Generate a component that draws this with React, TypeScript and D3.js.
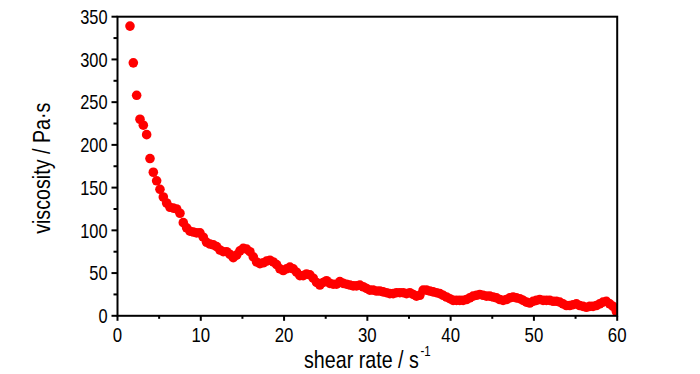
import { useEffect, useRef } from 'react'
import * as d3 from 'd3'

// shear rate (1/s)
const shearRate = [
  1.5, 1.9, 2.3, 2.7, 3.1, 3.5, 3.9, 4.3, 4.7, 5.1, 5.5, 5.9, 6.3, 6.7, 7.1, 7.5, 7.9, 8.3, 8.7, 9.1,
  9.5, 9.9, 10.3, 10.7, 11.1, 11.5, 11.9, 12.3, 12.7, 13.1, 13.5, 13.9, 14.3, 14.7, 15.1, 15.5, 15.9,
  16.3, 16.7, 17.1, 17.5, 17.9, 18.3, 18.7, 19.1, 19.5, 19.9, 20.3, 20.7, 21.1, 21.5, 21.9, 22.3, 22.7,
  23.1, 23.5, 23.9, 24.3, 24.7, 25.1, 25.5, 25.9, 26.3, 26.7, 27.1, 27.5, 27.9, 28.3, 28.7, 29.1, 29.5,
  29.9, 30.3, 30.7, 31.1, 31.5, 31.9, 32.3, 32.7, 33.1, 33.5, 33.9, 34.3, 34.7, 35.1, 35.5, 35.9, 36.3,
  36.7, 37.1, 37.5, 37.9, 38.3, 38.7, 39.1, 39.5, 39.9, 40.3, 40.7, 41.1, 41.5, 41.9, 42.3, 42.7, 43.1,
  43.5, 43.9, 44.3, 44.7, 45.1, 45.5, 45.9, 46.3, 46.7, 47.1, 47.5, 47.9, 48.3, 48.7, 49.1, 49.5, 49.9,
  50.3, 50.7, 51.1, 51.5, 51.9, 52.3, 52.7, 53.1, 53.5, 53.9, 54.3, 54.7, 55.1, 55.5, 55.9, 56.3, 56.7,
  57.1, 57.5, 57.9, 58.3, 58.7, 59.1, 59.5, 59.9,
]

// viscosity (Pa·s)
const viscosity = [
  339, 296, 258, 230, 223, 212, 184, 168, 158, 148, 139, 132, 127, 126, 125, 120, 109, 103, 99, 98,
  97, 97, 92, 86, 84, 83, 81, 77, 75, 75, 72, 68, 71, 76, 79, 78, 75,
  69, 63, 61, 62, 64, 65, 63, 60, 55, 53, 55, 57, 55, 51, 47, 47, 49,
  48, 44, 39, 36, 39, 41, 38, 37, 37, 40, 38, 37, 36, 35, 35, 36, 34,
  32, 30, 30, 29, 29, 28, 27, 26, 26, 27, 27, 27, 26, 27, 25, 23, 24,
  30, 30, 29, 28, 27, 26, 24, 22, 20, 18, 18, 18, 18, 19, 21, 23, 24,
  25, 24, 23, 23, 22, 21, 19, 18, 19, 21, 22, 21, 20, 18, 16, 15, 17,
  18, 19, 18, 18, 18, 17, 17, 16, 14, 12, 12, 13, 14, 12, 11, 10, 11,
  11, 12, 14, 16, 17, 14, 11, 5,
]

const xTicks = [0, 10, 20, 30, 40, 50, 60]
const xMinor = [5, 15, 25, 35, 45, 55]
const yTicks = [0, 50, 100, 150, 200, 250, 300, 350]
const yMinor = [25, 75, 125, 175, 225, 275, 325]

const W = 700
const H = 374
const FONT = '"Liberation Sans", Arial, sans-serif'
const NARROW = 0.82 // squeeze to look like Arial Narrow

export default function App() {
  const svgRef = useRef<SVGSVGElement | null>(null)

  useEffect(() => {
    if (!svgRef.current) return
    const svg = d3.select(svgRef.current)
    svg.selectAll('*').remove()

    const left = 117.5,
      right = 617.2,
      top = 16.7,
      bottom = 315.8

    const x = d3.scaleLinear().domain([0, 60]).range([left, right])
    const y = d3.scaleLinear().domain([0, 350]).range([bottom, top])

    svg
      .append('defs')
      .append('clipPath')
      .attr('id', 'plot-clip')
      .append('rect')
      .attr('x', left)
      .attr('y', top)
      .attr('width', right - left)
      .attr('height', bottom - top)

    // points
    const pts = shearRate.map((s, i) => ({ s, v: viscosity[i] }))
    svg
      .append('g')
      .attr('clip-path', 'url(#plot-clip)')
      .selectAll('circle')
      .data(pts)
      .join('circle')
      .attr('cx', (d) => x(d.s))
      .attr('cy', (d) => y(d.v))
      .attr('r', 4.8)
      .attr('fill', '#ff0000')

    // frame
    svg
      .append('rect')
      .attr('x', left)
      .attr('y', top)
      .attr('width', right - left)
      .attr('height', bottom - top)
      .attr('fill', 'none')
      .attr('stroke', '#000')
      .attr('stroke-width', 2)

    const axes = svg.append('g').attr('stroke', '#000').attr('stroke-width', 2)

    // x ticks
    axes
      .selectAll('line.xmaj')
      .data(xTicks)
      .join('line')
      .attr('class', 'xmaj')
      .attr('x1', (d) => x(d))
      .attr('x2', (d) => x(d))
      .attr('y1', bottom)
      .attr('y2', bottom + 5)
    axes
      .selectAll('line.xmin')
      .data(xMinor)
      .join('line')
      .attr('class', 'xmin')
      .attr('x1', (d) => x(d))
      .attr('x2', (d) => x(d))
      .attr('y1', bottom)
      .attr('y2', bottom + 3)

    // y ticks
    axes
      .selectAll('line.ymaj')
      .data(yTicks)
      .join('line')
      .attr('class', 'ymaj')
      .attr('x1', left)
      .attr('x2', left - 6)
      .attr('y1', (d) => y(d))
      .attr('y2', (d) => y(d))
    axes
      .selectAll('line.ymin')
      .data(yMinor)
      .join('line')
      .attr('class', 'ymin')
      .attr('x1', left)
      .attr('x2', left - 4)
      .attr('y1', (d) => y(d))
      .attr('y2', (d) => y(d))

    const labels = svg.append('g').attr('font-family', FONT).attr('fill', '#000')

    labels
      .selectAll('text.xl')
      .data(xTicks)
      .join('text')
      .attr('class', 'xl')
      .attr('transform', (d) => `translate(${x(d)},341.5) scale(${NARROW},1)`)
      .attr('text-anchor', 'middle')
      .attr('font-size', 20.5)
      .text((d) => d)

    labels
      .selectAll('text.yl')
      .data(yTicks)
      .join('text')
      .attr('class', 'yl')
      .attr('transform', (d) => `translate(${left - 10},${y(d)}) scale(${NARROW},1)`)
      .attr('dy', '0.36em')
      .attr('text-anchor', 'end')
      .attr('font-size', 20)
      .text((d) => d)

    // axis titles
    const xt = labels
      .append('text')
      .attr('transform', `translate(${(left + right) / 2},367.7) scale(${NARROW},1)`)
      .attr('text-anchor', 'middle')
      .attr('font-size', 24)
    xt.append('tspan').text('shear rate / s')
    xt.append('tspan').attr('font-size', 14).attr('dx', 2).attr('dy', -12).text('-1')

    labels
      .append('text')
      .attr('transform', `translate(50,${(top + bottom) / 2 + 2}) rotate(-90) scale(${NARROW},1)`)
      .attr('text-anchor', 'middle')
      .attr('font-size', 24)
      .text('viscosity / Pa·s')
  }, [])

  return (
    <svg
      ref={svgRef}
      width={W}
      height={H}
      style={{ position: 'absolute', left: 0, top: 0, display: 'block', background: '#fff' }}
    />
  )
}
